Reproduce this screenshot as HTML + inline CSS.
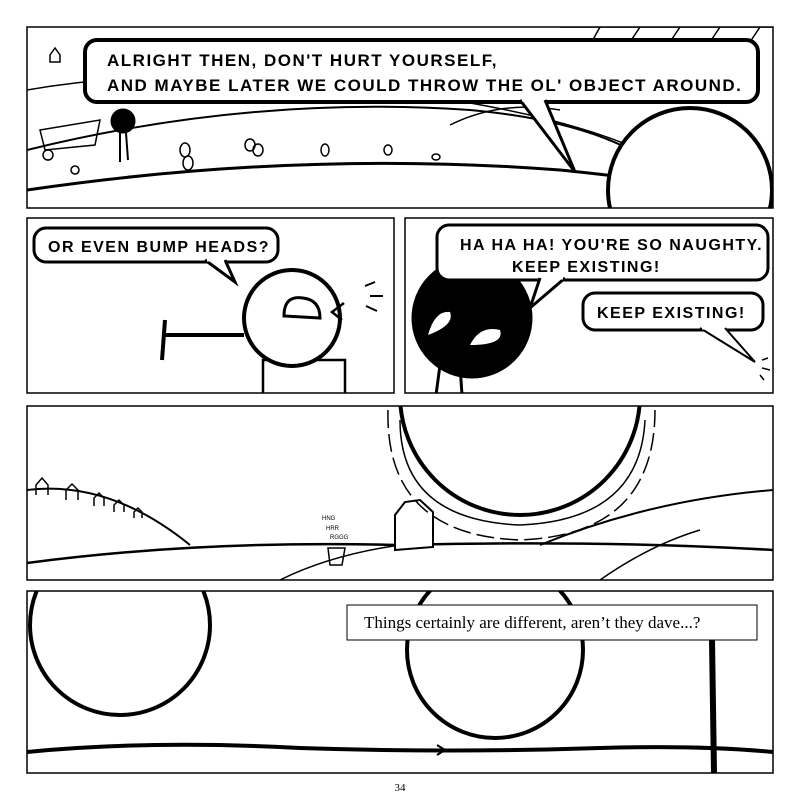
<!DOCTYPE html>
<html><head><meta charset="utf-8"><style>
html,body{margin:0;padding:0;background:#fff;}
svg{display:block;}
.b{font-family:"Liberation Sans",sans-serif;font-weight:bold;letter-spacing:1.5px;}
</style></head><body>
<svg width="800" height="800" viewBox="0 0 800 800" xmlns="http://www.w3.org/2000/svg">
<defs>
<clipPath id="p1"><rect x="27" y="27" width="746" height="181"/></clipPath>
<clipPath id="p2"><rect x="27" y="218" width="367" height="175"/></clipPath>
<clipPath id="p3"><rect x="405" y="218" width="368" height="175"/></clipPath>
<clipPath id="p4"><rect x="27" y="406" width="746" height="174"/></clipPath>
<clipPath id="p5"><rect x="27" y="591" width="746" height="182"/></clipPath>
</defs>
<rect width="800" height="800" fill="#fff"/>

<!-- Panel 1 -->
<g clip-path="url(#p1)" fill="none" stroke="#000">
<path d="M27 90 Q200 60 420 95 Q560 115 640 150" stroke-width="1.5"/>
<path d="M27 150 Q250 95 470 110 Q580 120 640 155" stroke-width="2"/>
<path d="M27 190 Q300 150 560 170 Q620 176 640 180" stroke-width="3"/>
<path d="M450 125 Q500 100 560 110" stroke-width="1.5"/>
<path d="M560 27 L773 27 M600 27 L590 45 M640 27 L628 45 M680 27 L668 45 M720 27 L708 45 M760 27 L748 45" stroke-width="1.5"/>
<circle cx="690" cy="190" r="82" fill="#fff" stroke-width="4"/>
<circle cx="123" cy="121" r="12" fill="#000"/>
<path d="M120 133 L120 162 M126 133 L128 160" stroke-width="2"/>
<path d="M40 130 L100 120 L95 145 L45 150 Z" stroke-width="1.5"/>
<circle cx="48" cy="155" r="5" stroke-width="1.5"/>
<g stroke-width="1.5"><ellipse cx="185" cy="150" rx="5" ry="7"/><ellipse cx="188" cy="163" rx="5" ry="7"/><ellipse cx="250" cy="145" rx="5" ry="6"/><ellipse cx="258" cy="150" rx="5" ry="6"/><ellipse cx="325" cy="150" rx="4" ry="6"/><ellipse cx="388" cy="150" rx="4" ry="5"/><ellipse cx="436" cy="157" rx="4" ry="3"/><ellipse cx="75" cy="170" rx="4" ry="4"/></g>
<path d="M50 55 L55 48 L60 55 L60 62 L50 62 Z" stroke-width="1.5"/>
</g>
<rect x="27" y="27" width="746" height="181" fill="none" stroke="#000" stroke-width="1.5"/>
<rect x="85" y="40" width="673" height="62" rx="12" fill="#fff" stroke="#000" stroke-width="4"/>
<path d="M520 100 L575 172 L545 100" fill="#fff" stroke="#000" stroke-width="3"/>
<path d="M522 99 L543 99" stroke="#fff" stroke-width="5"/>
<text class="b" x="107" y="66" font-size="17">ALRIGHT THEN, DON'T HURT YOURSELF,</text>
<text class="b" x="107" y="91" font-size="17">AND MAYBE LATER WE COULD THROW THE  OL'  OBJECT AROUND.</text>

<!-- Panel 2 -->
<g clip-path="url(#p2)" fill="none" stroke="#000">
<rect x="263" y="360" width="82" height="40" stroke-width="2.5"/>
<circle cx="292" cy="318" r="48" fill="#fff" stroke-width="4"/>
<path d="M284 316 Q284 295 303 298 Q320 300 320 318 Z" stroke-width="3"/>
<path d="M344 303 L332 312 L342 320" stroke-width="2.5"/>
<path d="M365 286 L375 282 M370 296 L383 296 M366 306 L377 311" stroke-width="2"/>
<path d="M244 335 L165 335 M165 320 L162 360" stroke-width="4"/>
</g>
<rect x="27" y="218" width="367" height="175" fill="none" stroke="#000" stroke-width="1.5"/>
<rect x="34" y="228" width="244" height="34" rx="12" fill="#fff" stroke="#000" stroke-width="3"/>
<path d="M205 260 L235 282 L225 260" fill="#fff" stroke="#000" stroke-width="3"/>
<path d="M207 259 L224 259" stroke="#fff" stroke-width="5"/>
<text class="b" x="48" y="252" font-size="16">OR EVEN BUMP HEADS?</text>

<!-- Panel 3 -->
<g clip-path="url(#p3)" fill="none" stroke="#000">
<path d="M440 365 L436 395 M460 365 L462 395" stroke-width="3"/>
<circle cx="472" cy="318" r="60" fill="#000"/>
<path d="M428 335 Q435 310 450 312 Q455 325 428 335 Z" fill="#fff" stroke="none"/>
<path d="M470 345 Q480 325 500 330 Q505 345 470 345 Z" fill="#fff" stroke="none"/>
<path d="M762 360 L768 358 M762 368 L770 370 M760 375 L764 380" stroke-width="1.5"/>
</g>
<rect x="405" y="218" width="368" height="175" fill="none" stroke="#000" stroke-width="1.5"/>
<rect x="437" y="225" width="331" height="55" rx="12" fill="#fff" stroke="#000" stroke-width="3"/>
<path d="M540 278 L530 308 L565 278" fill="#fff" stroke="#000" stroke-width="3"/>
<path d="M542 277 L563 277" stroke="#fff" stroke-width="5"/>
<text class="b" x="460" y="250" font-size="16">HA HA HA! YOU'RE SO NAUGHTY.</text>
<text class="b" x="512" y="272" font-size="16">KEEP EXISTING!</text>
<rect x="583" y="293" width="180" height="37" rx="12" fill="#fff" stroke="#000" stroke-width="3"/>
<path d="M700 328 L755 362 L725 328" fill="#fff" stroke="#000" stroke-width="2"/>
<path d="M702 327 L723 327" stroke="#fff" stroke-width="5"/>
<text class="b" x="597" y="318" font-size="16">KEEP EXISTING!</text>

<!-- Panel 4 -->
<g clip-path="url(#p4)" fill="none" stroke="#000">
<path d="M27 490 Q110 480 190 545" stroke-width="2"/>
<path d="M27 563 Q200 540 400 545 Q600 540 773 550" stroke-width="2.5"/>
<path d="M540 545 Q650 500 773 490" stroke-width="2"/>
<path d="M280 580 Q330 555 400 545" stroke-width="1.5"/>
<path d="M600 580 Q650 545 700 530" stroke-width="1.5"/>
<g stroke-width="1.5"><path d="M36 495 L36 485 L42 478 L48 485 L48 495"/><path d="M66 500 L66 490 L72 484 L78 490 L78 500"/><path d="M94 506 L94 498 L99 493 L104 498 L104 506"/><path d="M114 512 L114 505 L119 500 L124 505 L124 512"/><path d="M134 518 L134 512 L138 508 L142 512 L142 518"/></g>
<path d="M395 515 L405 502 L420 500 L433 512 L433 547 L395 550 Z" fill="#fff" stroke-width="2"/>
<circle cx="520" cy="395" r="120" stroke-width="4"/>
<path d="M400 420 Q400 520 520 525 Q640 520 645 420" stroke-width="1.5"/>
<path d="M388 410 Q385 535 520 540 Q655 535 655 410" stroke-width="1.5" stroke-dasharray="18 6"/>
<path d="M328 548 L345 548 L342 565 L330 565 Z" stroke-width="1.5"/>
</g>
<rect x="27" y="406" width="746" height="174" fill="none" stroke="#000" stroke-width="1.5"/>
<text x="322" y="520" font-family="Liberation Sans,sans-serif" font-size="6">HNG</text>
<text x="326" y="530" font-family="Liberation Sans,sans-serif" font-size="6">HRR</text>
<text x="330" y="539" font-family="Liberation Sans,sans-serif" font-size="6">RGGG</text>

<!-- Panel 5 -->
<g clip-path="url(#p5)" fill="none" stroke="#000">
<circle cx="120" cy="625" r="90" stroke-width="4"/>
<circle cx="495" cy="650" r="88" stroke-width="4"/>
<path d="M712 640 L714 773" stroke-width="6"/>
<path d="M27 752 Q150 740 300 748 Q450 753 600 748 Q700 745 773 752" stroke-width="4"/>
<path d="M437 745 L445 750 L437 755" stroke-width="2"/>
</g>
<rect x="27" y="591" width="746" height="182" fill="none" stroke="#000" stroke-width="1.5"/>
<rect x="347" y="605" width="410" height="35" fill="#fff" stroke="#000" stroke-width="1"/>
<text x="364" y="628" font-family="Liberation Serif,serif" font-size="17">Things certainly are different, aren’t they dave...?</text>

<text x="400" y="791" text-anchor="middle" font-family="Liberation Serif,serif" font-size="11">34</text>
</svg>
</body></html>
